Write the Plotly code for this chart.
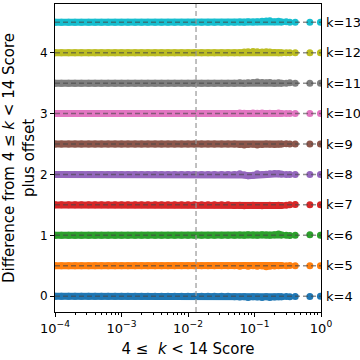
import plotly.graph_objects as go

# shared 4<=k<14 scores (x) -- dense low-score band and the sparser tail
band_scores = [8e-5, 1e-4, 1.25e-4, 1.6e-4, 2e-4, 2.5e-4, 3.2e-4, 4e-4, 5e-4, 6.3e-4,
               8e-4, 1e-3, 1.25e-3, 1.6e-3, 2e-3, 2.5e-3, 3.2e-3, 4e-3, 5e-3, 6.3e-3,
               8e-3, 0.01, 0.0125, 0.016, 0.02, 0.025, 0.032, 0.04]
tail_scores = [0.05, 0.06, 0.07, 0.08, 0.095, 0.11, 0.13, 0.15, 0.17, 0.2,
               0.23, 0.26, 0.3, 0.34, 0.41, 0.68, 0.98]
n_joined = 12  # tail points still inside the solid band (up to 0.26)

ks = [4, 5, 6, 7, 8, 9, 10, 11, 12, 13]
offsets = [0.0, 0.5, 1.0, 1.5, 2.0, 2.5, 3.0, 3.5, 4.0, 4.5]
colors = ["#1f77b4", "#ff7f0e", "#2ca02c", "#d62728", "#9467bd",
          "#8c564b", "#e377c2", "#7f7f7f", "#bcbd22", "#17becf"]

# per-k differences for the tail scores
diff_k4 = [-0.01, -0.015, -0.01, -0.02, -0.01, -0.015, -0.02, -0.01, -0.02, -0.015, -0.01, -0.01, -0.005, -0.01, -0.005, -0.005, 0.0]
diff_k5 = [0.0, -0.01, 0.005, -0.01, 0.0, -0.01, -0.005, -0.015, -0.01, -0.005, 0.0, 0.005, 0.0, 0.005, 0.0, 0.0, 0.0]
diff_k6 = [0.0, 0.005, 0.0, 0.01, 0.005, 0.0, 0.01, 0.005, 0.0, 0.01, 0.02, 0.005, 0.0, -0.005, 0.0, 0.01, 0.0]
diff_k7 = [-0.01, -0.005, -0.015, -0.01, -0.005, -0.01, -0.015, -0.01, -0.005, -0.01, -0.005, -0.01, -0.005, 0.0, 0.005, 0.0, 0.0]
diff_k8 = [0.0, 0.01, -0.01, -0.02, -0.015, 0.01, 0.0, 0.005, 0.01, 0.015, 0.01, 0.005, 0.0, 0.0, 0.0, 0.0, 0.0]
diff_k9 = [0.0, -0.01, -0.015, -0.01, -0.005, -0.015, -0.01, 0.0, -0.005, -0.01, -0.005, 0.0, 0.005, 0.0, 0.0, 0.0, 0.0]
diff_k10 = [0.0, 0.01, 0.005, 0.0, 0.01, 0.005, 0.01, 0.0, 0.005, 0.0, 0.01, 0.0, 0.0, 0.0, 0.0, 0.0, 0.0]
diff_k11 = [0.0, 0.005, 0.0, 0.005, 0.01, 0.02, 0.01, 0.005, 0.01, 0.0, 0.005, 0.0, 0.0, 0.005, 0.0, 0.0, 0.0]
diff_k12 = [0.0, 0.0, 0.01, 0.015, 0.02, 0.015, 0.01, 0.015, 0.01, 0.005, 0.0, 0.0, 0.0, 0.0, 0.0, 0.0, 0.0]
diff_k13 = [0.0, 0.005, 0.0, 0.01, 0.005, 0.01, 0.015, 0.02, 0.025, 0.01, 0.015, 0.005, 0.01, 0.0, 0.0, 0.0, 0.0]
diffs = [diff_k4, diff_k5, diff_k6, diff_k7, diff_k8, diff_k9, diff_k10, diff_k11, diff_k12, diff_k13]

threshold = 0.0132

x_tickvals = [1e-4, 1e-3, 1e-2, 1e-1, 1]
x_ticktext = ["10<sup>−4</sup>", "10<sup>−3</sup>", "10<sup>−2</sup>", "10<sup>−1</sup>", "10<sup>0</sup>"]

FONT = "DejaVu Sans"

fig = go.Figure()
for k, off, col, d in zip(ks, offsets, colors, diffs):
    xs = band_scores + tail_scores
    ys = [off for _ in band_scores] + [off + v for v in d]
    nb = len(band_scores) + n_joined
    # dense part: markers joined by a thick line so it reads as a solid band
    fig.add_trace(go.Scatter(
        x=xs[:nb], y=ys[:nb], mode="lines+markers",
        line={"color": col, "width": 7},
        marker={"size": 7, "color": col, "line": {"width": 0}},
        showlegend=False,
    ))
    fig.add_trace(go.Scatter(
        x=xs[nb:], y=ys[nb:], mode="markers",
        marker={"size": 7, "color": col, "line": {"width": 0}},
        showlegend=False,
    ))
    fig.add_shape(type="line", xref="paper", x0=0, x1=1, yref="y", y0=off, y1=off,
                  line={"color": "rgba(70,70,70,0.6)", "width": 1.5, "dash": "5px,3px"})
    fig.add_annotation(text=f"k={k}", xref="paper", x=1.01, xanchor="left",
                       yref="y", y=off, yanchor="middle", showarrow=False,
                       font={"size": 13, "color": "black", "family": FONT})

fig.add_shape(type="line", xref="x", x0=threshold, x1=threshold, yref="paper", y0=0, y1=1,
              line={"color": "rgba(150,150,150,0.8)", "width": 1.5, "dash": "5px,3px"})

fig.update_layout(
    width=360, height=360,
    paper_bgcolor="white", plot_bgcolor="white",
    margin={"l": 55, "r": 39, "t": 4, "b": 48},
    font={"family": FONT, "color": "black"},
)
fig.update_xaxes(
    type="log", range=[-4, 0], tickvals=x_tickvals, ticktext=x_ticktext,
    showgrid=False, zeroline=False,
    showline=True, linecolor="black", linewidth=1, mirror=True,
    ticks="outside", ticklen=4, tickcolor="black",
    tickfont={"size": 13},
    minor={"ticks": "outside", "ticklen": 2, "tickcolor": "black", "dtick": "D1", "showgrid": False},
    title={"text": "4 ≤  <i>k</i> < 14 Score", "font": {"size": 15}, "standoff": 8},
)
fig.update_yaxes(
    range=[-0.26, 4.8], tickvals=[0, 1, 2, 3, 4],
    showgrid=False, zeroline=False,
    showline=True, linecolor="black", linewidth=1, mirror=True,
    ticks="outside", ticklen=4, tickcolor="black",
    tickfont={"size": 12},
    title={"text": "Difference from 4 ≤ <i>k</i> < 14 Score<br>plus offset", "font": {"size": 15}, "standoff": 6},
)

fig.write_html("out.html", config={"displayModeBar": False},
               post_script="document.body.style.margin='0';")
